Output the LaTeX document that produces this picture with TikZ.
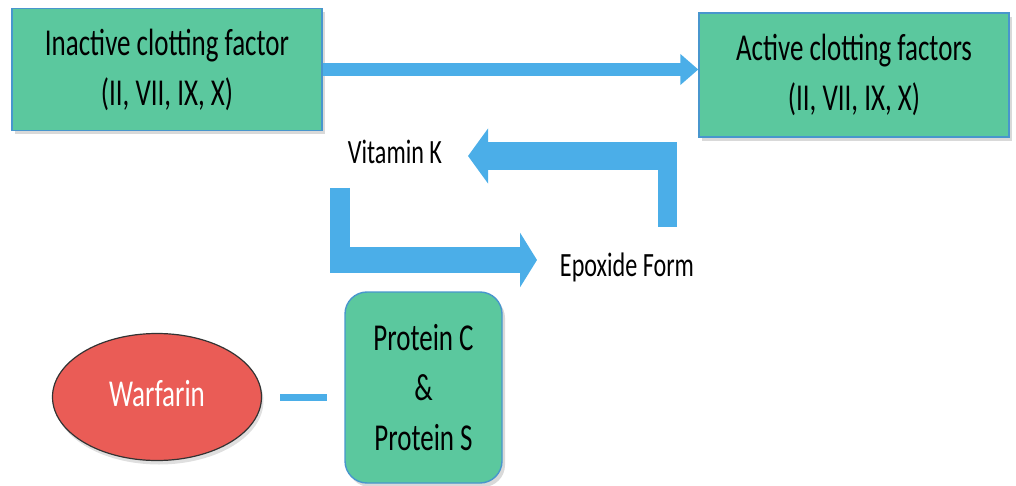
\documentclass[tikz,border=0pt]{standalone}
\usepackage{fontspec}
\setmainfont[FakeStretch=0.71]{Carlito}
\usetikzlibrary{positioning,arrows.meta,shapes.geometric,shadows}
\definecolor{boxgreen}{RGB}{91,200,158}
\definecolor{boxedge}{RGB}{72,150,205}
\definecolor{flowblue}{RGB}{75,174,232}
\definecolor{warfred}{RGB}{234,92,86}

\begin{document}
\begin{tikzpicture}[x=0.5pt,y=-0.5pt,
  factor/.style={draw=boxedge,line width=0.7pt,fill=boxgreen,align=center,
    minimum width=155pt,minimum height=61pt,font=\fontsize{19}{25}\selectfont,
    drop shadow={opacity=0.3,shadow xshift=1.5pt,shadow yshift=-2pt}},
  plain/.style={font=\fontsize{17}{19}\selectfont,inner sep=0pt},
  flow/.style={draw=flowblue}]
\useasboundingbox (0,0) rectangle (1016,486);
\node[factor] (inact) at (167,69.5) {Inactive clotting factor\\(II, VII, IX, X)};
\node[factor,minimum height=62pt] (act) at (854,75) {Active clotting factors\\(II, VII, IX, X)};
\node[plain] (vitk) at (395,152) {Vitamin K};
\node[plain] (epox) at (627,267) {Epoxide Form};
\node[factor,rounded corners=11pt,minimum width=78.5pt,minimum height=95.5pt] (prot) at (423.5,387.5) {Protein C\\\&\\Protein S};
\node[ellipse,draw=black!80,line width=0.6pt,fill=warfred,text=white,inner sep=0pt,
  minimum width=104.5pt,minimum height=63.5pt,font=\fontsize{19}{25}\selectfont,
  drop shadow={opacity=0.25,shadow xshift=1pt,shadow yshift=-2pt}] (wf) at (157,397) {\raisebox{3.5pt}{Warfarin}};
\coordinate (ktip) at (468,156);
\coordinate (etip) at (537,260);
\draw[flow,line width=6.5pt,-{Triangle[width=15pt,length=9pt]}] (inact.east) -- (inact.east -| act.west);
\draw[flow,line width=9.5pt] (667.5,227) -- (667.5,142);
\draw[flow,line width=14pt,-{Triangle[width=27pt,length=10pt]}] (677,156) -- (ktip);
\draw[flow,line width=10pt] (340,188) -- (340,273);
\draw[flow,line width=13pt,-{Triangle[width=27pt,length=8.5pt]}] (330,260) -- (etip);
\draw[flow,line width=3.5pt,shorten <=9pt,shorten >=8.5pt] (wf.east) -- (wf.east -| prot.west);
\end{tikzpicture}
\end{document}
